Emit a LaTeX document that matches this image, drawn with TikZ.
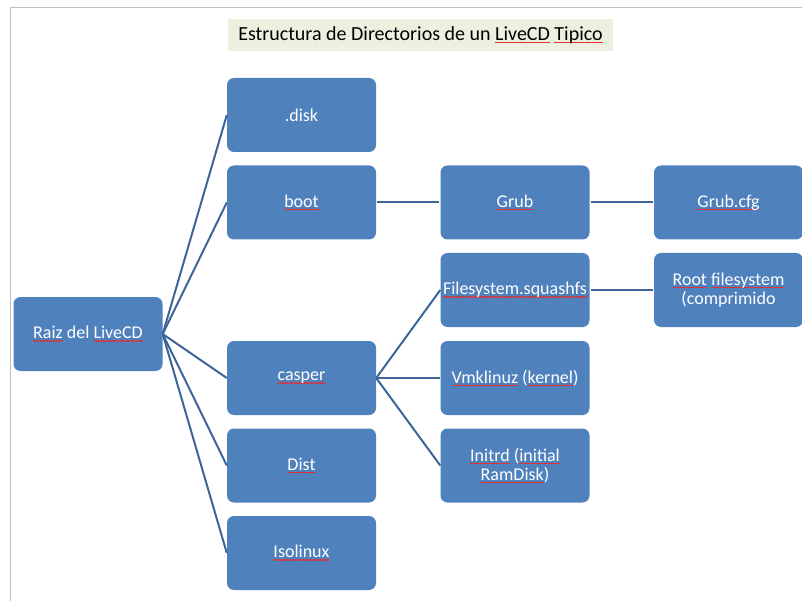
\documentclass[tikz,border=0pt]{standalone}
\usepackage{fontspec}
\setmainfont{Carlito}

\definecolor{boxblue}{HTML}{4F81BD}
\definecolor{linkblue}{HTML}{3E6597}
\definecolor{titlegreen}{HTML}{EBF1DE}
\definecolor{framegray}{HTML}{BCC0CA}
\definecolor{spellred}{HTML}{E03030}

\newsavebox{\spellbox}
\newcommand{\spellmark}[1]{\sbox{\spellbox}{#1}\rlap{\textcolor{spellred}{\lower2.6pt\hbox to\wd\spellbox{\xleaders\hbox{\raise0.5pt\hbox{\vrule width0.7pt height0.6pt depth0pt}\vrule width0.7pt height0.6pt depth0pt}\hfil}}}\usebox{\spellbox}}

\tikzset{
	dirbox/.style={fill=boxblue, rounded corners=7pt, minimum width=149pt, minimum height=74pt, text=white, align=center, font=\fontsize{18}{19}\selectfont, inner sep=2pt},
	branch/.style={draw=linkblue, line width=2pt},
}

\begin{document}
\begin{tikzpicture}[x=1pt,y=-1pt]
		\useasboundingbox (0,0) rectangle (802,601);
		\draw[framegray, line width=1pt] (10,601)--(10,8)--(802,8);
		\node[fill=titlegreen, minimum width=385pt, minimum height=32pt, inner sep=2pt, font=\fontsize{20}{21}\selectfont] (title) at (420.5,35) {Estructura de Directorios de un \spellmark{LiveCD} \spellmark{Tipico}};
		\node[dirbox] (raiz) at (88,334) {\spellmark{Raiz} del \spellmark{LiveCD}};
		\node[dirbox] (disk) at (301.5,115) {.disk};
		\node[dirbox] (boot) at (301.5,202.5) {\spellmark{boot}};
		\node[dirbox] (casper) at (301.5,378) {\spellmark{casper}};
		\node[dirbox] (dist) at (301.5,465.5) {\spellmark{Dist}};
		\node[dirbox] (isolinux) at (301.5,553) {\spellmark{Isolinux}};
		\node[dirbox] (grub) at (515,202.5) {\spellmark{Grub}};
		\node[dirbox] (grubcfg) at (728.5,202.5) {\spellmark{Grub.cfg}};
		\node[dirbox] (squashfs) at (515,290) {\spellmark{Filesystem.squashfs}};
		\node[dirbox] (rootfs) at (728.5,290) {\spellmark{Root} \spellmark{filesystem}\\(comprimido};
		\node[dirbox] (vmlinuz) at (515,378) {\spellmark{Vmklinuz} (\spellmark{kernel})};
		\node[dirbox] (initrd) at (515,465.5) {\spellmark{Initrd} (\spellmark{initial}\\\spellmark{RamDisk})};
		\draw[branch] (raiz.east)--(disk.west);
		\draw[branch] (raiz.east)--(boot.west);
		\draw[branch] (raiz.east)--(casper.west);
		\draw[branch] (raiz.east)--(dist.west);
		\draw[branch] (raiz.east)--(isolinux.west);
		\draw[branch, shorten <=1pt, shorten >=1pt] (boot.east)--(grub.west);
		\draw[branch, shorten <=1pt, shorten >=1pt] (grub.east)--(grubcfg.west);
		\draw[branch] (casper.east)--(squashfs.west);
		\draw[branch] (casper.east)--(vmlinuz.west);
		\draw[branch] (casper.east)--(initrd.west);
		\draw[branch, shorten <=1pt, shorten >=1pt] (squashfs.east)--(rootfs.west);
\end{tikzpicture}
\end{document}
